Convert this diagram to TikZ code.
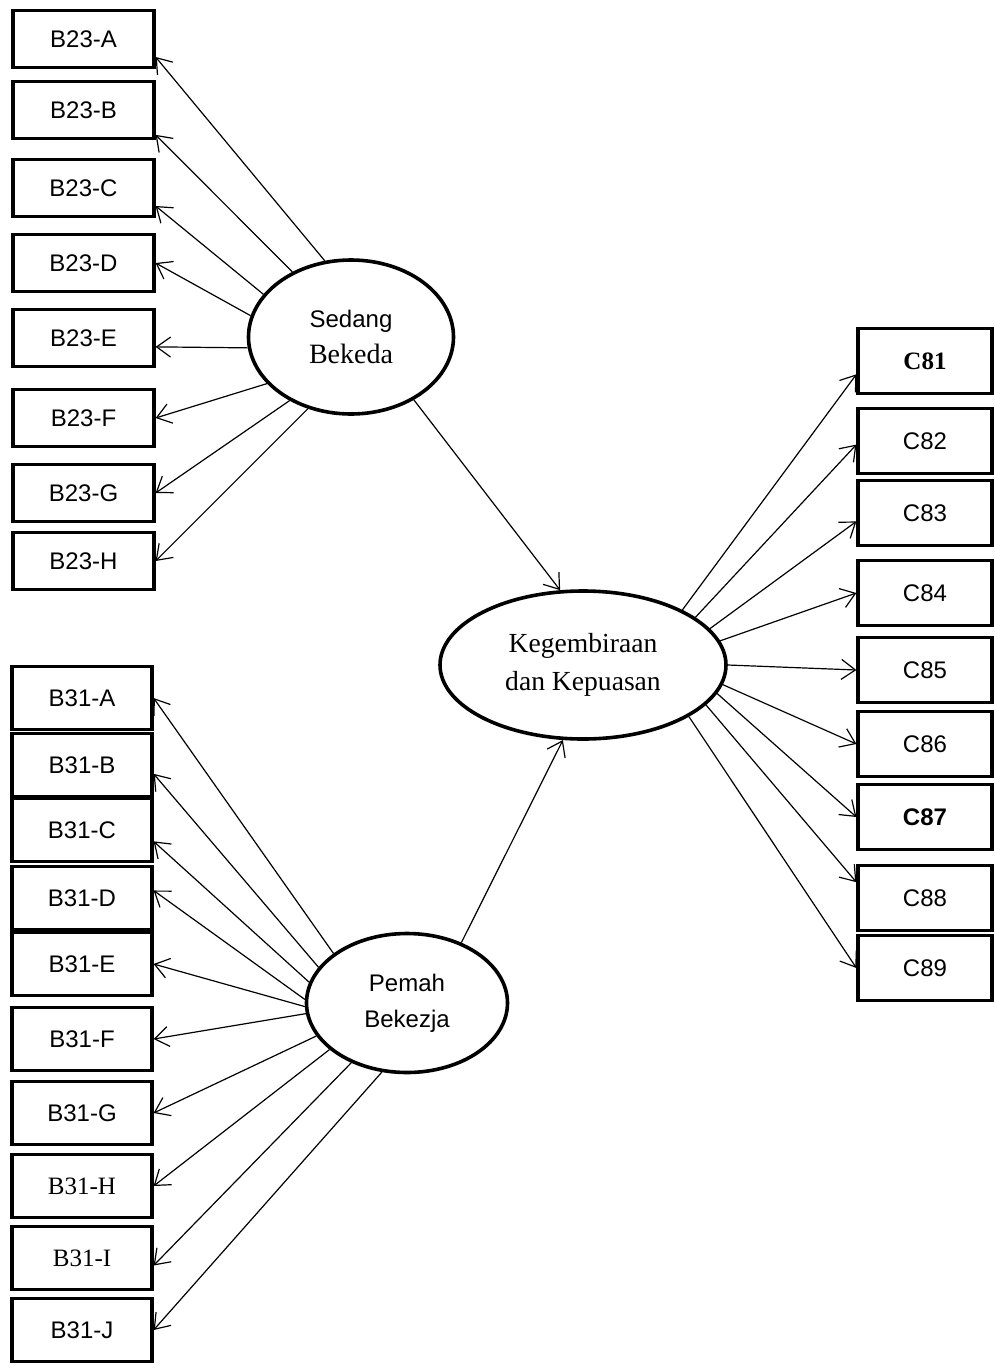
\documentclass[tikz,border=0pt]{standalone}
\usepackage{fontspec}
\setmainfont{Liberation Serif}
\setsansfont{Liberation Sans}
\usetikzlibrary{shapes,arrows.meta}
\tikzstyle{indicator} = [rectangle, draw, line width=1.6pt, minimum width=70.5pt, minimum height=28.5pt, inner sep=0pt, text centered, font=\sffamily\fontsize{12}{14}\selectfont]
\tikzstyle{outcome}   = [indicator, minimum width=67pt, minimum height=32.5pt]
\tikzstyle{construct} = [ellipse, draw, line width=1.8pt, inner sep=0pt, align=center, font=\sffamily\fontsize{12}{18}\selectfont]
\tikzstyle{loading}   = [draw, line width=0.6pt, -{Straight Barb[length=7pt,width=10pt]}]

\begin{document}
\begin{tikzpicture}[x=0.5pt, y=-0.5pt, node distance=37.5pt]
            \useasboundingbox (0,0) rectangle (995,1366);
            \node[construct, minimum width=102.5pt, minimum height=77pt] (sedang) at (351,337) {Sedang\\{\rmfamily\fontsize{14}{18}\selectfont Bekeda}};
            \node[construct, minimum width=143pt, minimum height=74pt, font=\rmfamily\fontsize{13.8}{19}\selectfont] (kegembiraan) at (583,665) {Kegembiraan\\dan Kepuasan};
            \node[construct, minimum width=100.5pt, minimum height=69.5pt] (pemah) at (407,1003) {Pemah\\Bekezja};

            % B23 indicators
            \node[indicator] (b23a) at (83.5,39) {B23-A};
            \node[indicator, below of=b23a, node distance=35.5pt] (b23b) {B23-B};
            \node[indicator, below of=b23b, node distance=39pt] (b23c) {B23-C};
            \node[indicator, below of=b23c] (b23d) {B23-D};
            \node[indicator, below of=b23d] (b23e) {B23-E};
            \node[indicator, below of=b23e, node distance=40pt] (b23f) {B23-F};
            \node[indicator, below of=b23f] (b23g) {B23-G};
            \node[indicator, below of=b23g, node distance=34pt] (b23h) {B23-H};

            % B31 indicators
            \node[indicator, minimum width=70pt, minimum height=31.5pt] (b31a) at (82,698) {B31-A};
            \node[indicator, minimum width=70pt, minimum height=31.5pt, below of=b31a, node distance=33.5pt] (b31b) {B31-B};
            \node[indicator, minimum width=70pt, minimum height=31.5pt, below of=b31b, node distance=32.5pt] (b31c) {B31-C};
            \node[indicator, minimum width=70pt, minimum height=31.5pt, below of=b31c, node distance=34pt] (b31d) {B31-D};
            \node[indicator, minimum width=70pt, minimum height=31.5pt, below of=b31d, node distance=33pt] (b31e) {B31-E};
            \node[indicator, minimum width=70pt, minimum height=31.5pt, below of=b31e] (b31f) {B31-F};
            \node[indicator, minimum width=70pt, minimum height=31.5pt, below of=b31f, node distance=37pt] (b31g) {B31-G};
            \node[indicator, minimum width=70pt, minimum height=31.5pt, below of=b31g, node distance=36.5pt, font=\rmfamily\fontsize{12.5}{14}\selectfont] (b31h) {B31-H};
            \node[indicator, minimum width=70pt, minimum height=31.5pt, below of=b31h, node distance=36pt, font=\rmfamily\fontsize{12.5}{14}\selectfont] (b31i) {B31-I};
            \node[indicator, minimum width=70pt, minimum height=31.5pt, below of=b31i, node distance=36pt] (b31j) {B31-J};

            % C8 indicators
            \node[outcome, font=\rmfamily\bfseries\fontsize{12.5}{14}\selectfont] (c81) at (925,361) {C81};
            \node[outcome, below of=c81, node distance=40pt] (c82) {C82};
            \node[outcome, below of=c82, node distance=36pt] (c83) {C83};
            \node[outcome, below of=c83, node distance=40pt] (c84) {C84};
            \node[outcome, below of=c84, node distance=38.5pt] (c85) {C85};
            \node[outcome, below of=c85, node distance=37pt] (c86) {C86};
            \node[outcome, below of=c86, node distance=36.5pt, font=\sffamily\bfseries\fontsize{12}{14}\selectfont] (c87) {C87};
            \node[outcome, below of=c87, node distance=40.5pt] (c88) {C88};
            \node[outcome, below of=c88, node distance=35pt] (c89) {C89};

            \path [loading] (sedang.109) -- (b23a.-14);
            \path [loading] (sedang.132) -- (b23b.-19);
            \path [loading] (sedang.154) -- (b23c.-14);
            \path [loading] (sedang.168) -- (b23d.east);
            \path [loading] (sedang.186) -- (b23e.-7);
            \path [loading] (sedang.209) -- (b23f.east);
            \path [loading] (sedang.226) -- (b23g.east);
            \path [loading] (sedang.239) -- (b23h.east);

            \path [loading] (pemah.146) -- (b31a.east);
            \path [loading] (pemah.158) -- (b31b.-7);
            \path [loading] (pemah.168) -- (b31c.-9);
            \path [loading] (pemah.178) -- (b31d.6);
            \path [loading] (pemah.182) -- (b31e.east);
            \path [loading] (pemah.186) -- (b31f.east);
            \path [loading] (pemah.200) -- (b31g.east);
            \path [loading] (pemah.211) -- (b31h.east);
            \path [loading] (pemah.227) -- (b31i.-6);
            \path [loading] (pemah.250) -- (b31j.east);

            \path [loading] (sedang.-45) -- (kegembiraan.107);
            \path [loading] (pemah.48)   -- (kegembiraan.255);

            \path [loading] (kegembiraan.29)  -- (c81.191);
            \path [loading] (kegembiraan.23)  -- (c82.183);
            \path [loading] (kegembiraan.16)  -- (c83.187);
            \path [loading] (kegembiraan.10)  -- (c84.west);
            \path [loading] (kegembiraan.0)   -- (c85.west);
            \path [loading] (kegembiraan.-8)  -- (c86.west);
            \path [loading] (kegembiraan.-12) -- (c87.west);
            \path [loading] (kegembiraan.-18) -- (c88.167);
            \path [loading] (kegembiraan.-26) -- (c89.west);
        \end{tikzpicture}
\end{document}
